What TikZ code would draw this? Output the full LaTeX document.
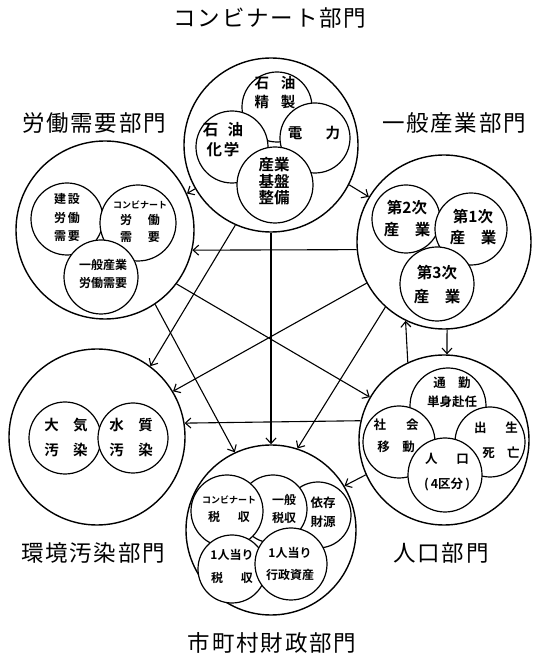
\documentclass[tikz,border=0pt]{standalone}
\usepackage{fontspec}
\setmainfont{Noto Sans CJK JP}[BoldFont={Noto Sans CJK JP Bold}]
\newfontfamily\jplab[LetterSpace=8]{Noto Sans CJK JP}
\usetikzlibrary{arrows.meta}
\newcommand\myfs[2]{\fontsize{#1}{#2}\selectfont}
\begin{document}
\begin{tikzpicture}[x=1pt,y=1pt,
  big/.style={circle,draw,line width=1.4pt,inner sep=0pt,minimum size=#1},
  inn/.style={circle,draw,line width=1.2pt,fill=white,inner sep=0pt,minimum size=#1},
  lab/.style={font=\jplab\myfs{22.5}{24},inner sep=0pt},
  txt/.style={align=center,inner sep=0pt,execute at begin node=\bfseries},
  conn/.style={line width=1.1pt,-{Straight Barb[length=5.5pt,width=10pt,line width=1.1pt]}}]
\useasboundingbox (0,0) rectangle (538,665);

% sector labels
\node[lab] (lT) at (270,647) {コンビナート部門};
\node[lab] (lL) at (94,542) {労働需要部門};
\node[lab] (lR) at (454,542) {一般産業部門};
\node[lab] (lE) at (93,112) {環境汚染部門};
\node[lab] (lP) at (441,112) {人口部門};
\node[lab] (lF) at (272,22) {市町村財政部門};

% big circles
\node[big=174pt] (T) at (271,520) {};
\node[big=178pt] (L) at (105,435) {};
\node[big=174pt] (R) at (444,423) {};
\node[big=176pt] (E) at (97,228) {};
\node[big=170pt] (P) at (444,225) {};
\node[big=170pt] (F) at (271,135) {};

% top inner circles
\node[inn=70pt] (a1) at (277,558) {};
\node[inn=72pt] (a2) at (232,518) {};
\node[inn=70pt] (a3) at (315,527) {};
\node[inn=76pt] (a4) at (275,480) {};
\node[txt,font=\myfs{14.5}{19}] (ta1) at (275,572.5) {石\hspace{0.8em}油\\精\hspace{0.8em}製};
\node[txt,font=\myfs{15.5}{20}] (ta2) at (223,525) {石\hspace{0.6em}油\\化\hspace{0.1em}学};
\node[txt,font=\myfs{14.5}{17}] (ta3) at (314,532) {電\hspace{1.6em}力};
\node[txt,font=\myfs{15.5}{16.5}] (ta4) at (274,483.5) {産業\\基盤\\整備};

% labour inner circles
\node[inn=72pt] (b1) at (67,446) {};
\node[inn=76pt] (b2) at (138,442) {};
\node[inn=74pt] (b3) at (101,388) {};
\node[txt,font=\myfs{12}{18.5}] (tb1) at (67,447) {建\hspace{0.15em}設\\労\hspace{0.15em}働\\需\hspace{0.15em}要};
\node[txt,font=\myfs{12}{16.5}] (tb2) at (140,443.5) {{\myfs{9}{16.5}コンビナート}\\労\hspace{1.3em}働\\需\hspace{1.3em}要};
\node[txt,font=\myfs{12}{18}] (tb3) at (103,391) {一般産業\\労働需要};

% industry inner circles
\node[inn=68pt] (c1) at (406,446) {};
\node[inn=72pt] (c2) at (471,436) {};
\node[inn=74pt] (c3) at (437,381) {};
\node[txt,font=\myfs{15.5}{22}] (tc1) at (407,446) {第2次\\産\hspace{1em}業};
\node[txt,font=\myfs{15.5}{21}] (tc2) at (473,437.5) {第1次\\産\hspace{1em}業};
\node[txt,font=\myfs{15.5}{24}] (tc3) at (437,380) {第3次\\産\hspace{1em}業};

% environment inner circles
\node[inn=72pt] (d1) at (65,227) {};
\node[inn=70pt] (d2) at (133,227) {};
\node[txt,font=\myfs{14.5}{25}] (td1) at (66,227.5) {大\hspace{1em}気\\汚\hspace{1em}染};
\node[txt,font=\myfs{14.5}{25}] (td2) at (131,227.5) {水\hspace{1em}質\\汚\hspace{1em}染};

% population inner circles
\node[inn=76pt] (e1) at (448,259) {};
\node[inn=72pt] (e2) at (399,223) {};
\node[inn=70pt] (e3) at (490,223) {};
\node[inn=74pt] (e4) at (445,190) {};
\node[txt,font=\myfs{12.5}{19}] (te1) at (452,272.5) {通\hspace{1em}勤\\単身赴任};
\node[txt,font=\myfs{12.5}{22}] (te2) at (396,229) {社\hspace{1.6em}会\\移\hspace{1em}動};
\node[txt,font=\myfs{12.5}{25}] (te3) at (496,224.5) {出\hspace{1.5em}生\\\hspace{0.8em}死\hspace{1em}亡};
\node[txt,font=\myfs{12.5}{25}] (te4) at (447,192.5) {人\hspace{1.5em}口\\(\,4区分\,)};

% finance inner circles
\node[inn=66pt] (f1) at (318,150) {};
\node[inn=68pt] (f2) at (273,156) {};
\node[inn=72pt] (f3) at (227,154) {};
\node[inn=68pt] (f4) at (232,96) {};
\node[inn=72pt] (f5) at (291,101) {};
\node[txt,font=\myfs{12}{18}] (tf3) at (229,156) {{\myfs{9}{18}コンビナート}\\税\hspace{1.5em}収};
\node[txt,font=\myfs{12}{18}] (tf2) at (284,156) {一般\\税収};
\node[txt,font=\myfs{12.5}{19}] (tf1) at (323,152.5) {依存\\財源};
\node[txt,font=\myfs{12}{23}] (tf4) at (232,98.5) {1人当り\\税\hspace{1.5em}収};
\node[txt,font=\myfs{12}{22}] (tf5) at (290,101) {1人当り\\行政資産};

% connectors
\draw[conn] (T.-27.5) -- (R.149);
\draw[conn] (T.210) -- (L.24);
\draw[conn] (T.246) -- (E.53);
\draw[conn] (T.270) -- (F.90);
\draw[conn] (L.-37) -- (P.150);
\draw[conn] (L.-56) -- (F.115);
\draw[conn] (R.208) -- (E.31);
\draw[conn] (R.228) -- (F.72);
\draw[conn] (P.167.8) -- (E.9.8);
\draw[conn] (R.185.3) -- (L.-13);
\draw[conn] (R.-88) -- (P.88);
\draw[conn] (P.115.8) -- (R.244.8);
\draw[conn] (P.204) -- (F.31);
\end{tikzpicture}
\end{document}
